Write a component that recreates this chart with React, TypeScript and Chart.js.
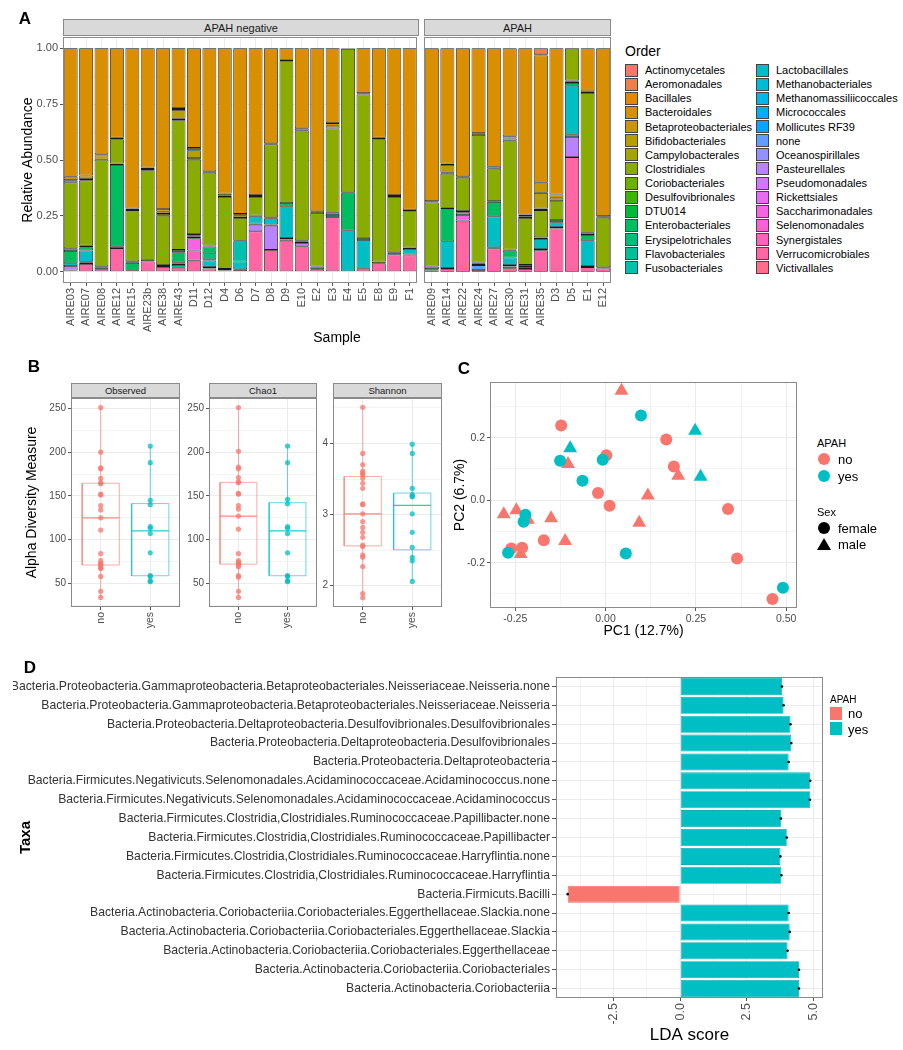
import React, { useEffect, useRef } from "react";
import { Chart, registerables } from "chart.js";

Chart.register(...registerables);

const FONT = '"Liberation Sans", Arial, Helvetica, sans-serif';
Chart.defaults.font.family = FONT;

const TXT = "#4D4D4D";
const GRID = "#EBEBEB";
const GRID_MINOR = "#F4F4F4";
const TICK = "#555555";
const FRAME = "#8A8A8A";
const RED = "#F8766D";
const CYAN = "#00BFC4";

// ---------------- Panel A : relative abundance ----------------
const SAMPLES_NEG = ["AIRE03","AIRE07","AIRE08","AIRE12","AIRE15","AIRE23b","AIRE38","AIRE43","D11","D12","D4","D6","D7","D8","D9","E10","E2","E3","E4","E5","E8","E9","F1"];
const SAMPLES_APAH = ["AIRE09","AIRE14","AIRE22","AIRE24","AIRE27","AIRE30","AIRE31","AIRE35","D3","D5","E1","E12"];
const ORDER_NAMES = ["Actinomycetales","Aeromonadales","Bacillales","Bacteroidales","Betaproteobacteriales","Bifidobacteriales","Campylobacterales","Clostridiales","Coriobacteriales","Desulfovibrionales","DTU014","Enterobacteriales","Erysipelotrichales","Flavobacteriales","Fusobacteriales","Lactobacillales","Methanobacteriales","Methanomassiliicoccales","Micrococcales","Mollicutes RF39","none","Oceanospirillales","Pasteurellales","Pseudomonadales","Rickettsiales","Saccharimonadales","Selenomonadales","Synergistales","Verrucomicrobiales","Victivallales"];
const Y_TICKS_A = [0, 0.25, 0.5, 0.75, 1];

// values per sample: 23 APAH-negative samples, then 12 APAH samples
const aeromonadales = [0,0,0,0,0,0,0,0,0,0, 0,0,0,0,0,0,0,0,0,0, 0,0,0, 0,0,0,0,0,0,0,0.027,0,0,0,0];
const bacillales = [0,0,0,0,0,0,0,0,0,0, 0,0,0,0,0,0,0,0,0,0, 0,0,0, 0,0,0,0,0,0,0,0.006,0,0,0,0];
const bacteroidales = [0.575,0.569,0.474,0.400,0.717,0.534,0.719,0.268,0.446,0.550, 0.650,0.741,0.657,0.425,0.052,0.358,0.729,0.335,0.003,0.201, 0.400,0.657,0.722, 0.684,0.516,0.573,0.380,0.530,0.394,0.744,0.569,0.654,0,0.193,0.751];
const betaproteobacteriales = [0.015,0.016,0.015,0,0,0.006,0.012,0.008,0.010,0, 0.008,0.008,0,0,0,0,0,0.012,0,0, 0,0,0, 0,0.006,0,0,0,0.010,0.007,0.045,0.015,0,0,0];
const bifidobacteriales = [0.010,0.006,0.010,0.007,0.007,0.006,0.010,0.040,0.035,0.007, 0.007,0.010,0.008,0.005,0.006,0.009,0.008,0.012,0,0.006, 0.007,0.008,0.007, 0.006,0.035,0.006,0.008,0.009,0.010,0.008,0.070,0.015,0,0.007,0.007];
const campylobacterales = [0,0,0,0,0,0,0.008,0.006,0.008,0, 0,0,0,0,0,0,0,0,0,0, 0,0,0, 0,0.004,0,0,0,0,0,0.007,0,0,0,0];
const clostridiales = [0.295,0.292,0.476,0.109,0.229,0.400,0.221,0.580,0.332,0.325, 0.322,0.102,0.083,0.326,0.634,0.492,0.239,0.377,0.641,0.641, 0.547,0.248,0.162, 0.286,0.153,0.149,0.570,0.145,0.486,0.210,0.122,0.084,0.145,0.625,0.222];
const coriobacteriales = [0,0,0,0.006,0,0.008,0.008,0,0.006,0, 0,0,0.006,0.007,0,0.006,0,0,0,0, 0.008,0.009,0, 0,0,0.006,0.006,0,0,0,0,0,0.005,0,0];
const desulfovibrionales = [0,0,0,0,0,0,0,0,0.006,0, 0,0,0,0,0,0,0,0,0,0, 0,0,0, 0,0,0,0,0,0,0,0,0,0,0,0];
const dtu014 = [0.012,0.007,0,0,0.007,0,0,0.010,0.007,0.005, 0,0,0,0,0,0,0.012,0,0,0.010, 0,0,0.007, 0.012,0.006,0,0.006,0.004,0.006,0.009,0.007,0,0.006,0.010,0.005];
const enterobacteriales = [0.055,0.015,0.013,0.364,0.035,0,0,0.045,0,0.030, 0,0,0,0,0.015,0,0,0,0.172,0, 0,0,0, 0,0.143,0,0,0.064,0.030,0,0,0.010,0.012,0.024,0];
const erysipelotrichales = [0,0,0,0.008,0,0,0,0.012,0,0.027, 0,0,0,0,0,0,0,0,0,0, 0,0,0, 0,0,0,0,0,0,0,0,0,0,0,0];
const flavobacteriales = [0,0,0,0,0,0,0,0.013,0,0.005, 0,0,0,0,0,0,0,0,0,0, 0,0,0, 0,0,0,0,0,0,0,0,0,0,0,0];
const fusobacteriales = [0,0,0,0,0,0,0,0,0,0, 0,0.093,0,0,0,0,0,0,0,0, 0,0,0, 0,0,0,0,0,0,0,0,0,0,0,0];
const lactobacillales = [0.012,0.050,0,0,0,0,0,0,0,0.030, 0,0.035,0.030,0.025,0.142,0,0,0,0.184,0.128, 0,0,0.025, 0,0.120,0.012,0,0.138,0.034,0,0.045,0.022,0.219,0.115,0];
const methanobacteriales = [0,0.005,0,0,0,0,0,0,0,0.006, 0.007,0,0.005,0.006,0.006,0.006,0,0.010,0,0, 0,0,0.004, 0,0.005,0,0,0.005,0.006,0.009,0.006,0.006,0.010,0.005,0];
const micrococcales = [0,0.005,0,0,0,0,0,0,0,0, 0,0,0,0,0.006,0,0,0.009,0,0, 0,0,0, 0,0,0,0,0,0,0,0,0,0,0,0];
const noneOrder = [0,0,0,0,0.005,0,0,0,0,0, 0.006,0,0,0,0,0,0,0,0,0, 0,0,0, 0.006,0,0,0.022,0,0,0,0,0,0,0,0];
const pasteurellales = [0.020,0,0,0,0,0,0,0,0,0, 0,0,0.030,0.108,0,0.015,0,0,0,0, 0,0,0, 0,0,0,0,0,0,0,0,0,0.090,0,0];
const saccharimonadales = [0,0,0,0,0,0,0,0,0.055,0, 0,0,0,0,0,0,0,0,0,0, 0,0,0, 0,0,0.025,0,0,0,0,0,0,0,0,0];
const synergistales = [0,0,0,0,0,0,0,0,0.045,0, 0,0,0,0,0,0,0,0,0,0, 0,0,0, 0,0,0,0,0,0,0,0,0,0,0,0];
const verrucomicrobiales = [0.006,0.035,0.012,0.106,0,0.046,0.022,0.018,0.050,0.015, 0,0.011,0.181,0.098,0.139,0.114,0.012,0.245,0,0.014, 0.038,0.078,0.073, 0.006,0.012,0.229,0.008,0.105,0.008,0.013,0.096,0.194,0.513,0.021,0.015];
const victivallales = [0,0,0,0,0,0,0,0,0,0, 0,0,0,0,0,0,0,0,0,0, 0,0,0, 0,0,0,0,0,0.016,0,0,0,0,0,0];

const ORDER_SERIES: [string, number[]][] = [
  ["Aeromonadales", aeromonadales], ["Bacillales", bacillales], ["Bacteroidales", bacteroidales],
  ["Betaproteobacteriales", betaproteobacteriales], ["Bifidobacteriales", bifidobacteriales],
  ["Campylobacterales", campylobacterales], ["Clostridiales", clostridiales], ["Coriobacteriales", coriobacteriales],
  ["Desulfovibrionales", desulfovibrionales], ["DTU014", dtu014], ["Enterobacteriales", enterobacteriales],
  ["Erysipelotrichales", erysipelotrichales], ["Flavobacteriales", flavobacteriales], ["Fusobacteriales", fusobacteriales],
  ["Lactobacillales", lactobacillales], ["Methanobacteriales", methanobacteriales], ["Micrococcales", micrococcales],
  ["none", noneOrder], ["Pasteurellales", pasteurellales], ["Saccharimonadales", saccharimonadales],
  ["Synergistales", synergistales], ["Verrucomicrobiales", verrucomicrobiales], ["Victivallales", victivallales],
];

// ---------------- Panel B : alpha diversity ----------------
const GROUPS = ["no", "yes"];
const observedNo = [251, 200, 182, 181, 170, 165, 164, 152, 151, 139, 134, 125, 111, 84, 76, 73, 72, 70, 68, 67, 58, 41, 34];
const observedYes = [207, 188, 145, 140, 115, 113, 107, 85, 59, 58, 53, 52];
const chao1No = [251, 201, 183, 181, 171, 166, 165, 153, 152, 139, 135, 127, 112, 84, 76, 74, 73, 71, 69, 59, 57, 41, 34];
const chao1Yes = [207, 188, 146, 141, 115, 113, 107, 85, 59, 58, 53, 52];
const shannonNo = [4.51, 3.86, 3.70, 3.61, 3.58, 3.56, 3.51, 3.44, 3.37, 3.15, 3.14, 3.01, 2.90, 2.82, 2.75, 2.68, 2.57, 2.55, 2.43, 2.40, 2.27, 1.89, 1.83];
const shannonYes = [3.99, 3.86, 3.37, 3.28, 3.26, 3.25, 3.01, 2.75, 2.54, 2.40, 2.35, 2.06];
const COUNT_TICKS = [50, 100, 150, 200, 250];
const COUNT_MINOR = [25, 75, 125, 175, 225];
const SHANNON_TICKS = [2, 3, 4];
const SHANNON_MINOR = [2.5, 3.5, 4.5];

// ---------------- Panel C : PCoA ----------------
const noFemalePC1 = [-0.123, 0.002, 0.168, 0.189, -0.021, 0.011, 0.339, -0.171, -0.261, -0.231, 0.364, 0.462];
const noFemalePC2 = [0.239, 0.144, 0.194, 0.108, 0.023, -0.018, -0.028, -0.128, -0.155, -0.152, -0.187, -0.316];
const noMalePC1 = [0.044, -0.104, 0.201, 0.117, 0.093, -0.282, -0.247, -0.215, -0.151, -0.112, -0.235];
const noMalePC2 = [0.350, 0.116, 0.078, 0.015, -0.072, -0.045, -0.032, -0.063, -0.058, -0.131, -0.172];
const yesFemalePC1 = [0.098, -0.126, -0.008, -0.064, -0.222, -0.227, -0.270, 0.056, 0.491];
const yesFemalePC2 = [0.271, 0.126, 0.129, 0.062, -0.047, -0.069, -0.168, -0.171, -0.280];
const yesMalePC1 = [-0.098, 0.248, 0.263];
const yesMalePC2 = [0.166, 0.222, 0.075];
const PC1_TICKS = [-0.25, 0, 0.25, 0.5];
const PC1_MINOR = [-0.125, 0.125, 0.375];
const PC2_TICKS = [-0.2, 0, 0.2];
const PC2_MINOR = [-0.3, -0.1, 0.1, 0.3];

// ---------------- Panel D : LEfSe ----------------
const LDA_TAXA = [
  "Bacteria.Proteobacteria.Gammaproteobacteria.Betaproteobacteriales.Neisseriaceae.Neisseria.none",
  "Bacteria.Proteobacteria.Gammaproteobacteria.Betaproteobacteriales.Neisseriaceae.Neisseria",
  "Bacteria.Proteobacteria.Deltaproteobacteria.Desulfovibrionales.Desulfovibrionales",
  "Bacteria.Proteobacteria.Deltaproteobacteria.Desulfovibrionales",
  "Bacteria.Proteobacteria.Deltaproteobacteria",
  "Bacteria.Firmicutes.Negativicuts.Selenomonadales.Acidaminococcaceae.Acidaminococcus.none",
  "Bacteria.Firmicutes.Negativicuts.Selenomonadales.Acidaminococcaceae.Acidaminococcus",
  "Bacteria.Firmicutes.Clostridia,Clostridiales.Ruminococcaceae.Papillibacter.none",
  "Bacteria.Firmicutes.Clostridia,Clostridiales.Ruminococcaceae.Papillibacter",
  "Bacteria.Firmicutes.Clostridia,Clostridiales.Ruminococcaceae.Harryflintia.none",
  "Bacteria.Firmicutes.Clostridia,Clostridiales.Ruminococcaceae.Harryflintia",
  "Bacteria.Firmicuts.Bacilli",
  "Bacteria.Actinobacteria.Coriobacteriia.Coriobacteriales.Eggerthellaceae.Slackia.none",
  "Bacteria.Actinobacteria.Coriobacteriia.Coriobacteriales.Eggerthellaceae.Slackia",
  "Bacteria.Actinobacteria.Coriobacteriia.Coriobacteriales.Eggerthellaceae",
  "Bacteria.Actinobacteria.Coriobacteriia.Coriobacteriales",
  "Bacteria.Actinobacteria.Coriobacteriia",
];
const LDA_SCORE = [3.82, 3.88, 4.14, 4.17, 4.07, 4.88, 4.87, 3.78, 4.0, 3.76, 3.8, -4.22, 4.07, 4.11, 4.03, 4.46, 4.46];
const LDA_GROUP = ["yes","yes","yes","yes","yes","yes","yes","yes","yes","yes","yes","no","yes","yes","yes","yes","yes"];
const LDA_TICKS = [-2.5, 0, 2.5, 5];
const LDA_MINOR = [-3.75, -1.25, 1.25, 3.75];

// ---------------- helpers ----------------
function hcl(h: number, c = 100, l = 65): string {
  const hr = (h * Math.PI) / 180;
  const U = c * Math.cos(hr), V = c * Math.sin(hr);
  const Y = Math.pow((l + 16) / 116, 3);
  const Xn = 0.95047, Yn = 1, Zn = 1.08883;
  const d = Xn + 15 * Yn + 3 * Zn;
  const un = (4 * Xn) / d, vn = (9 * Yn) / d;
  const u = U / (13 * l) + un, v = V / (13 * l) + vn;
  const X = (Y * 9 * u) / (4 * v);
  const Z = (Y * (12 - 3 * u - 20 * v)) / (4 * v);
  const lin = [
    3.2404542 * X - 1.5371385 * Y - 0.4985314 * Z,
    -0.969266 * X + 1.8760108 * Y + 0.041556 * Z,
    0.0556434 * X - 0.2040259 * Y + 1.0572252 * Z,
  ];
  return "#" + lin.map((x) => {
    const g = x <= 0.0031308 ? 12.92 * x : 1.055 * Math.pow(x, 1 / 2.4) - 0.055;
    const n = Math.round(Math.max(0, Math.min(1, g)) * 255);
    return n.toString(16).padStart(2, "0");
  }).join("");
}
const orderColor = (name: string) => hcl(15 + (360 * ORDER_NAMES.indexOf(name)) / ORDER_NAMES.length);

function quantile(s: number[], p: number) {
  const h = (s.length - 1) * p;
  const lo = Math.floor(h);
  const hi = Math.min(lo + 1, s.length - 1);
  return s[lo] + (h - lo) * (s[hi] - s[lo]);
}
function boxStats(vals: number[]) {
  const s = [...vals].sort((a, b) => a - b);
  const q1 = quantile(s, 0.25), med = quantile(s, 0.5), q3 = quantile(s, 0.75);
  const iqr = q3 - q1;
  const lo = s.find((v) => v >= q1 - 1.5 * iqr) as number;
  const hi = [...s].reverse().find((v) => v <= q3 + 1.5 * iqr) as number;
  return { q1, med, q3, lo, hi };
}

const framePlugin = {
  id: "frame",
  afterDraw(chart: any) {
    const { ctx, chartArea: a } = chart;
    ctx.save();
    ctx.strokeStyle = FRAME;
    ctx.lineWidth = 1;
    ctx.strokeRect(Math.round(a.left) + 0.5, Math.round(a.top) + 0.5, Math.round(a.width) - 1, Math.round(a.height) - 1);
    ctx.restore();
  },
};

function linearAxis(o: {
  min: number; max: number; majors: number[]; minors: number[]; fmt: (v: number) => string;
  size: number; rotate?: boolean; fit: (s: any) => void; title?: any;
}) {
  return {
    type: "linear",
    min: o.min,
    max: o.max,
    afterBuildTicks: (s: any) => {
      s.ticks = [...o.majors.map((v) => ({ value: v })), ...o.minors.map((v) => ({ value: v, mn: true }))].sort((a, b) => a.value - b.value);
    },
    ticks: {
      autoSkip: false,
      padding: 2,
      color: TXT,
      font: { size: o.size },
      minRotation: o.rotate ? 90 : 0,
      maxRotation: o.rotate ? 90 : 0,
      callback: (v: number, i: number, t: any[]) => (t[i] && t[i].mn ? "" : o.fmt(v)),
    },
    grid: {
      color: (c: any) => (c.tick && c.tick.mn ? GRID_MINOR : GRID),
      tickColor: (c: any) => (c.tick && c.tick.mn ? "rgba(0,0,0,0)" : TICK),
      tickLength: 3,
    },
    border: { display: false },
    title: o.title || { display: false },
    afterFit: o.fit,
  };
}

function ChartBox({ x, y, w, h, make }: { x: number; y: number; w: number; h: number; make: () => any }) {
  const ref = useRef<HTMLCanvasElement>(null);
  useEffect(() => {
    const chart = new Chart(ref.current as HTMLCanvasElement, make());
    return () => chart.destroy();
  }, []);
  return <canvas ref={ref} width={w} height={h} style={{ position: "absolute", left: x, top: y, width: w, height: h }} />;
}

function Txt({ x, y, size, children, anchor = "middle", weight = 400, color = "#000", rotate = 0 }: any) {
  const tx = anchor === "middle" ? "-50%" : anchor === "end" ? "-100%" : "0";
  return (
    <div style={{
      position: "absolute", left: x, top: y, transformOrigin: "0 0",
      transform: `${rotate ? `rotate(${rotate}deg) ` : ""}translate(${tx},-50%)`,
      fontSize: size, fontWeight: weight, color, whiteSpace: "nowrap", lineHeight: 1, fontFamily: FONT,
    }}>{children}</div>
  );
}

function Strip({ x, y, w, h, label, size }: any) {
  return (
    <div style={{
      position: "absolute", left: x, top: y, width: w, height: h, background: "#D9D9D9",
      border: `1px solid ${FRAME}`, boxSizing: "border-box", display: "flex", alignItems: "center",
      justifyContent: "center", fontSize: size, color: "#1A1A1A", fontFamily: FONT,
    }}>{label}</div>
  );
}

// ---------------- chart configs ----------------
function stackSets(from: number, to: number) {
  return [...ORDER_SERIES].reverse().map(([name, vals]) => ({
    label: name,
    data: vals.slice(from, to),
    backgroundColor: orderColor(name),
    borderColor: "#1A1A1A",
    borderWidth: 0.8,
    borderSkipped: false,
    barPercentage: 0.9,
    categoryPercentage: 1,
  }));
}

function abundanceChart(labels: string[], from: number, to: number, showY: boolean, pad: any) {
  return {
    type: "bar",
    data: { labels, datasets: stackSets(from, to) },
    options: {
      responsive: false,
      animation: false,
      layout: { padding: pad },
      plugins: { legend: { display: false }, tooltip: { enabled: false } },
      scales: {
        x: {
          stacked: true,
          grid: { offset: false, color: GRID, tickColor: TICK, tickLength: 3 },
          border: { display: false },
          ticks: { autoSkip: false, minRotation: 90, maxRotation: 90, padding: 2, color: TXT, font: { size: 11 } },
          afterFit: (s: any) => { s.height = 64; },
        },
        y: {
          stacked: true,
          ...linearAxis({
            min: -0.05, max: 1.05, majors: Y_TICKS_A, minors: [0.125, 0.375, 0.625, 0.875],
            fmt: (v) => v.toFixed(2), size: 11, fit: (s: any) => { s.width = showY ? 47 : 0; },
            title: { display: true, text: "Relative Abundance", color: "#000", font: { size: 14 }, padding: { top: 4, bottom: 4 } },
          }),
          display: showY,
        },
      },
    },
    plugins: [framePlugin],
  };
}

const BOX_W = 0.75;
function boxDatasets(vals: number[], pos: number, rgb: string) {
  const st = boxStats(vals);
  const hw = BOX_W / 2;
  const line = (data: any[], width = 1, col = `rgba(${rgb},0.6)`) => ({
    type: "scatter", data, showLine: true, borderColor: col, borderWidth: width, pointRadius: 0, fill: false,
  });
  return [
    {
      type: "scatter",
      data: vals.map((v) => ({ x: pos, y: v })),
      backgroundColor: `rgba(${rgb},0.75)`,
      borderWidth: 0,
      pointRadius: 2.6,
    },
    line([{ x: pos - hw, y: st.med }, { x: pos + hw, y: st.med }], 1.3, `rgba(${rgb},0.85)`),
    line([{ x: pos - hw, y: st.q1 }, { x: pos + hw, y: st.q1 }, { x: pos + hw, y: st.q3 }, { x: pos - hw, y: st.q3 }, { x: pos - hw, y: st.q1 }]),
    line([{ x: pos, y: st.lo }, { x: pos, y: st.q1 }]),
    line([{ x: pos, y: st.q3 }, { x: pos, y: st.hi }]),
  ];
}

function alphaChart(no: number[], yes: number[], ax: any, padLeft: number, yWidth: number, title: boolean) {
  return {
    type: "scatter",
    data: {
      datasets: [...boxDatasets(no, 1, "248,118,109"), ...boxDatasets(yes, 2, "0,191,196")],
    },
    options: {
      responsive: false,
      animation: false,
      layout: { padding: { left: padLeft, top: 10, right: 5, bottom: 0 } },
      plugins: { legend: { display: false }, tooltip: { enabled: false } },
      scales: {
        x: linearAxis({
          min: 0.4, max: 2.6, majors: [1, 2], minors: [], fmt: (v) => GROUPS[Math.round(v) - 1] || "",
          size: 10.5, rotate: true, fit: (s: any) => { s.height = 36; },
        }),
        y: linearAxis({
          ...ax, size: 10, fit: (s: any) => { s.width = yWidth; },
          title: title
            ? { display: true, text: "Alpha Diversity Measure", color: "#000", font: { size: 14 }, padding: { top: 4, bottom: 4 } }
            : { display: false },
        }),
      },
    },
    plugins: [framePlugin],
  };
}

function pcoaChart() {
  const pts = (xs: number[], ys: number[]) => xs.map((x, i) => ({ x, y: ys[i] }));
  return {
    type: "scatter",
    data: {
      datasets: [
        { data: pts(yesFemalePC1, yesFemalePC2), backgroundColor: CYAN, pointStyle: "circle", pointRadius: 6, borderWidth: 0 },
        { data: pts(yesMalePC1, yesMalePC2), backgroundColor: CYAN, pointStyle: "triangle", pointRadius: 8, borderWidth: 0 },
        { data: pts(noFemalePC1, noFemalePC2), backgroundColor: RED, pointStyle: "circle", pointRadius: 6, borderWidth: 0 },
        { data: pts(noMalePC1, noMalePC2), backgroundColor: RED, pointStyle: "triangle", pointRadius: 8, borderWidth: 0 },
      ],
    },
    options: {
      responsive: false,
      animation: false,
      layout: { padding: { left: 3, top: 10, right: 6, bottom: 0 } },
      plugins: { legend: { display: false }, tooltip: { enabled: false } },
      scales: {
        x: linearAxis({
          min: -0.32, max: 0.53, majors: PC1_TICKS, minors: PC1_MINOR, fmt: (v) => v.toFixed(2), size: 10.5,
          fit: (s: any) => { s.height = 34; },
          title: { display: true, text: "PC1 (12.7%)", color: "#000", font: { size: 14 }, padding: { top: 0, bottom: 2 } },
        }),
        y: linearAxis({
          min: -0.345, max: 0.378, majors: PC2_TICKS, minors: PC2_MINOR, fmt: (v) => v.toFixed(1), size: 10.5,
          fit: (s: any) => { s.width = 42; },
          title: { display: true, text: "PC2 (6.7%)", color: "#000", font: { size: 14 }, padding: { top: 4, bottom: 4 } },
        }),
      },
    },
    plugins: [framePlugin],
  };
}

function ldaChart() {
  return {
    type: "bar",
    data: {
      labels: LDA_TAXA,
      datasets: [
        {
          type: "scatter",
          data: LDA_SCORE.map((v, i) => ({ x: v, y: LDA_TAXA[i] })),
          backgroundColor: "#000",
          pointRadius: 1.3,
          borderWidth: 0,
        },
        {
          type: "bar",
          data: LDA_SCORE,
          backgroundColor: LDA_GROUP.map((g) => (g === "no" ? RED : CYAN)),
          borderColor: LDA_GROUP.map((g) => (g === "no" ? "#E8665D" : "#12ADB2")),
          borderWidth: 0.8,
          borderSkipped: false,
          barPercentage: 0.9,
          categoryPercentage: 1,
        },
      ],
    },
    options: {
      responsive: false,
      animation: false,
      indexAxis: "y",
      layout: { padding: { left: 13, top: 10, right: 12, bottom: 0 } },
      plugins: { legend: { display: false }, tooltip: { enabled: false } },
      scales: {
        x: linearAxis({
          min: -4.66, max: 5.36, majors: LDA_TICKS, minors: LDA_MINOR, fmt: (v) => v.toFixed(1), size: 12.5, rotate: true,
          fit: (s: any) => { s.height = 52; },
          title: { display: true, text: "LDA score", color: "#000", font: { size: 17 }, padding: { top: 0, bottom: 4 } },
        }),
        y: {
          type: "category",
          grid: { offset: false, color: GRID, tickColor: TICK, tickLength: 4 },
          border: { display: false },
          ticks: { autoSkip: false, padding: 2, color: "#333", font: { size: 12.2 } },
          title: { display: true, text: "Taxa", color: "#000", font: { size: 15, weight: "bold" }, padding: { top: 4, bottom: 4 } },
          afterFit: (s: any) => { s.width = 543; },
        },
      },
    },
    plugins: [framePlugin],
  };
}

// ---------------- App ----------------
export default function App() {
  const nNeg = SAMPLES_NEG.length;
  const nAll = nNeg + SAMPLES_APAH.length;
  return (
    <div style={{ position: "fixed", left: 0, top: 0, width: 903, height: 1050, overflow: "hidden", background: "#fff", fontFamily: FONT }}>
      {/* Panel A */}
      <ChartBox x={0} y={27} w={425} h={320} make={() => abundanceChart(SAMPLES_NEG, 0, nNeg, true, { left: 16, top: 10, right: 6, bottom: 0 })} />
      <ChartBox x={419} y={27} w={200} h={320} make={() => abundanceChart(SAMPLES_APAH, nNeg, nAll, false, { left: 5, top: 10, right: 8, bottom: 0 })} />
      <Strip x={63} y={19} w={356} h={17} label="APAH negative" size={11} />
      <Strip x={424} y={19} w={187} h={17} label="APAH" size={11} />
      <Txt x={337} y={337} size={14}>Sample</Txt>
      <Txt x={25} y={18} size={17} weight={700}>A</Txt>
      <Txt x={625} y={51} size={14} anchor="left">Order</Txt>
      {ORDER_NAMES.map((name, i) => {
        const col = Math.floor(i / 15);
        const row = i % 15;
        const kx = col ? 756 : 625;
        const cy = 70 + row * 14.13;
        return (
          <React.Fragment key={name}>
            <div style={{ position: "absolute", left: kx, top: cy - 6.5, width: 13, height: 13, background: orderColor(name), border: "1px solid #444", boxSizing: "border-box" }} />
            <Txt x={kx + 20} y={cy} size={11} anchor="left">{name}</Txt>
          </React.Fragment>
        );
      })}

      {/* Panel B */}
      <ChartBox x={0} y={388} w={185} h={255} make={() => alphaChart(observedNo, observedYes, { min: 23, max: 262, majors: COUNT_TICKS, minors: COUNT_MINOR, fmt: (v: number) => String(v) }, 20, 51, true)} />
      <ChartBox x={185} y={388} w={137} h={255} make={() => alphaChart(chao1No, chao1Yes, { min: 23, max: 262, majors: COUNT_TICKS, minors: COUNT_MINOR, fmt: (v: number) => String(v) }, 0, 24, false)} />
      <ChartBox x={318} y={388} w={129} h={255} make={() => alphaChart(shannonNo, shannonYes, { min: 1.7, max: 4.64, majors: SHANNON_TICKS, minors: SHANNON_MINOR, fmt: (v: number) => String(v) }, 0, 15, false)} />
      <Strip x={71} y={383} w={109} h={15} label="Observed" size={9.5} />
      <Strip x={209} y={383} w={108} h={15} label="Chao1" size={9.5} />
      <Strip x={333} y={383} w={109} h={15} label="Shannon" size={9.5} />
      <Txt x={34} y={366} size={17} weight={700}>B</Txt>

      {/* Panel C */}
      <ChartBox x={445} y={372} w={360} h={270} make={pcoaChart} />
      <Txt x={464} y={368} size={17} weight={700}>C</Txt>
      <Txt x={817} y={443} size={11} anchor="left">APAH</Txt>
      <div style={{ position: "absolute", left: 818, top: 453, width: 12, height: 12, borderRadius: "50%", background: RED }} />
      <Txt x={838} y={459} size={13} anchor="left">no</Txt>
      <div style={{ position: "absolute", left: 818, top: 470, width: 12, height: 12, borderRadius: "50%", background: CYAN }} />
      <Txt x={838} y={476} size={13} anchor="left">yes</Txt>
      <Txt x={817} y={512} size={11} anchor="left">Sex</Txt>
      <div style={{ position: "absolute", left: 818, top: 522, width: 12, height: 12, borderRadius: "50%", background: "#000" }} />
      <Txt x={838} y={528} size={13} anchor="left">female</Txt>
      <div style={{ position: "absolute", left: 817, top: 538, width: 0, height: 0, borderLeft: "7px solid transparent", borderRight: "7px solid transparent", borderBottom: "12px solid #000" }} />
      <Txt x={838} y={544} size={13} anchor="left">male</Txt>

      {/* Panel D */}
      <ChartBox x={0} y={667} w={835} h={383} make={ldaChart} />
      <Txt x={30} y={667} size={17} weight={700}>D</Txt>
      <Txt x={830} y={700} size={10} anchor="left">APAH</Txt>
      <div style={{ position: "absolute", left: 830, top: 707, width: 12, height: 13, background: RED }} />
      <Txt x={848} y={713} size={13} anchor="left">no</Txt>
      <div style={{ position: "absolute", left: 830, top: 722, width: 12, height: 13, background: CYAN }} />
      <Txt x={848} y={729} size={13} anchor="left">yes</Txt>
    </div>
  );
}
